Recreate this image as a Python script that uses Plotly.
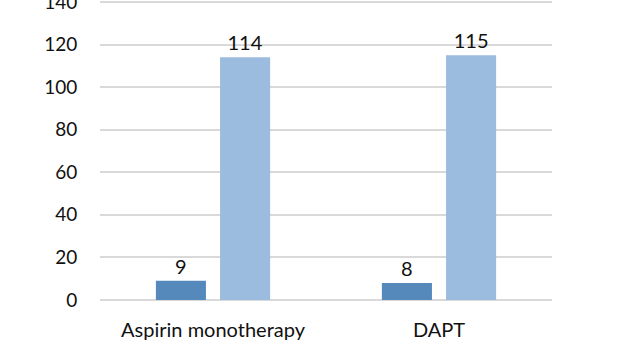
import plotly.graph_objects as go

categories = ["Aspirin monotherapy", "DAPT"]
series1_values = [9, 8]
series2_values = [114, 115]
y_ticks = [0, 20, 40, 60, 80, 100, 120, 140]

font_family = "Lato, Liberation Sans, Arial, sans-serif"
text_color = "#111111"

fig = go.Figure()
fig.add_trace(go.Bar(
    x=categories, y=series1_values, name="Series 1",
    marker=dict(color="#5588BB", line=dict(width=0)),
    text=series1_values, textposition="outside", cliponaxis=False,
    textfont=dict(size=20, color=text_color, family=font_family),
))
fig.add_trace(go.Bar(
    x=categories, y=series2_values, name="Series 2",
    marker=dict(color="#9BBBDF", line=dict(width=0)),
    text=series2_values, textposition="outside", cliponaxis=False,
    textfont=dict(size=20, color=text_color, family=font_family),
))

fig.update_layout(
    width=624, height=351,
    margin=dict(l=100, r=72, t=0, b=51, autoexpand=False),
    paper_bgcolor="white", plot_bgcolor="white",
    barmode="group", bargap=0.432, bargroupgap=0.22,
    showlegend=False,
    font=dict(family=font_family, size=19, color=text_color),
    xaxis=dict(showgrid=False, showline=False, ticks="outside", ticklen=12,
               tickcolor="rgba(0,0,0,0)", tickfont=dict(size=20),
               automargin=False),
    yaxis=dict(range=[0, 140.9], tickvals=y_ticks, showgrid=True,
               gridcolor="#D9D9D9", gridwidth=1.5, zeroline=True,
               zerolinecolor="#D9D9D9", zerolinewidth=1.5,
               ticks="outside", ticklen=18, tickcolor="rgba(0,0,0,0)",
               ticklabeloverflow="allow", automargin=False,
               tickfont=dict(size=19)),
)

fig.write_html("out.html")
